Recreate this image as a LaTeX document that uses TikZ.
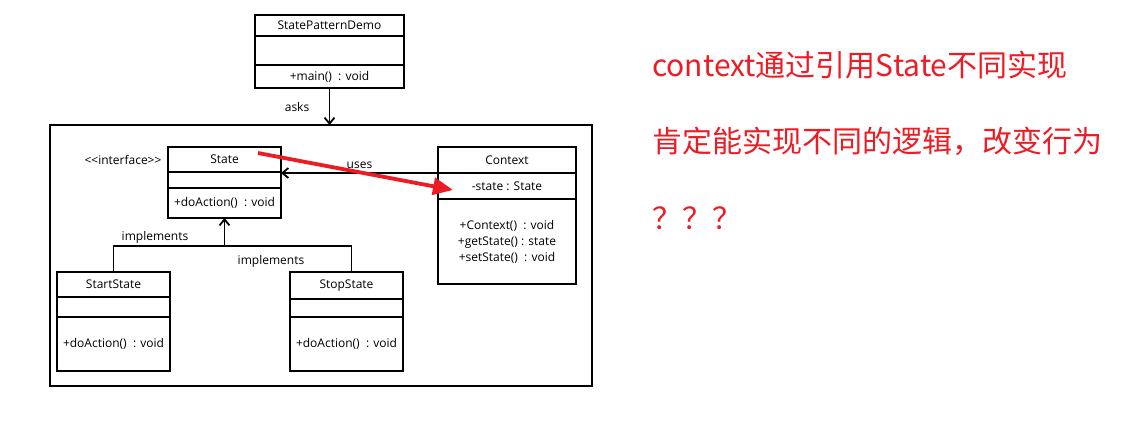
\documentclass[tikz,border=0pt]{standalone}
\usepackage{fontspec}
\setmainfont{Open Sans}
\newfontfamily\cjkfont{Noto Sans CJK SC}
\usetikzlibrary{arrows.meta,positioning}
\definecolor{notered}{RGB}{237,28,36}

\begin{document}
\begin{tikzpicture}[x=1pt, y=-1pt, >={Straight Barb[length=6pt,width=10pt]},
    font=\fontsize{12}{16}\selectfont,
    cls/.style={draw, line width=1.8pt, outer sep=0pt, inner sep=0pt, minimum width=#1},
    cls/.default=113,
    conn/.style={line width=1.8pt},
    note/.style={anchor=west, inner sep=0pt, text=notered,
        font=\cjkfont\fontsize{30}{36}\selectfont}]
\useasboundingbox (0,0) rectangle (1130,429);

% client class
\node[cls=149, minimum height=21] (demo) at (329.5,25.5) {StatePatternDemo};
\node[cls=149, minimum height=29, below=0pt of demo] (demoattr) {};
\node[cls=149, minimum height=23, below=0pt of demoattr] (demoops) {+main()~~: void};

% package frame
\node[draw, line width=1.8pt, outer sep=0pt, minimum width=542, minimum height=261]
    (frame) at (321,255.5) {};

% interface
\node[cls, minimum height=25] (state) at (224.5,159.5) {State};
\node[cls, minimum height=16, below=0pt of state] (stateattr) {};
\node[cls, minimum height=30, below=0pt of stateattr] (stateops) {+doAction()~~: void};
\node[left=3pt of state] (iface) {<\kern0pt<interface>\kern0pt>};

% context
\node[cls=138, minimum height=26] (context) at (507,160) {Context};
\node[cls=138, minimum height=26, below=0pt of context] (contextattr) {-state : State};
\node[cls=138, minimum height=85, below=0pt of contextattr, align=center] (contextops)
    {+Context()~~: void\\+getState() : state\\+setState()~~: void};

% concrete states
\node[cls, minimum height=25] (start) at (113.5,284.5) {StartState};
\node[cls, minimum height=20, below=0pt of start] (startattr) {};
\node[cls, minimum height=54, below=0pt of startattr] (startops) {+doAction()~~: void};

\node[cls, minimum height=27] (stop) at (346.5,285.5) {StopState};
\node[cls, minimum height=18, below=0pt of stop] (stopattr) {};
\node[cls, minimum height=54, below=0pt of stopattr] (stopops) {+doAction()~~: void};

% connectors
\draw[conn, ->] (demoops.south) -- (demoops.south |- frame.north)
    node[midway, left=16pt] {asks};
\draw[conn, ->] (context.south west) -- (context.south west -| state.east)
    node[midway, above] {uses};

\coordinate (branch) at (stateops.south |- 0,246);
\draw[conn, ->] (branch) -- (stateops.south);
\draw[conn] (start.north) |- (branch) -| ([xshift=5pt]stop.north);
\node (impl1) at (155,237) {implements};
\node (impl2) at (271,261) {implements};

% red remark
\coordinate (redfrom) at (258,153);
\coordinate (redto) at (453,190);
\draw[notered, line width=3.8pt, -{Triangle[length=20pt,width=17pt]}] (redfrom) -- (redto);

\node[note] (note1) at (652,65) {context通过引用State不同实现};
\node[note] (note2) at (652,141) {肯定能实现不同的逻辑，改变行为};
\node[note] (note3) at (652,218) {？？？};
\end{tikzpicture}
\end{document}
